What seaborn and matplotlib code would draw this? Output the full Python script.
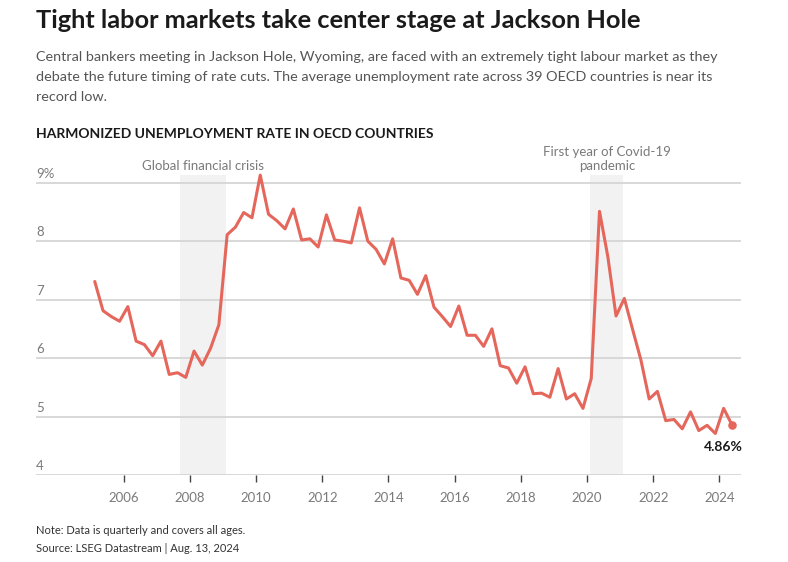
import numpy as np
import pandas as pd
import matplotlib
matplotlib.use('Agg')
import matplotlib.pyplot as plt
import matplotlib.transforms as mtransforms
import seaborn as sns

# ── Data (quarterly, Q1 2005 - Q2 2024) ───────────────────────────────────────
first_year = 2005
rate = [
    7.31, 6.81, 6.71, 6.63, 6.88, 6.29, 6.23, 6.04, 6.29, 5.72, 5.75, 5.67,
    6.12, 5.88, 6.17, 6.57, 8.11, 8.24, 8.49, 8.40, 9.13, 8.46, 8.35, 8.21,
    8.55, 8.02, 8.04, 7.90, 8.45, 8.02, 8.00, 7.97, 8.57, 8.00, 7.86, 7.61,
    8.04, 7.37, 7.33, 7.09, 7.41, 6.87, 6.71, 6.54, 6.89, 6.39, 6.39, 6.20,
    6.50, 5.87, 5.83, 5.57, 5.85, 5.39, 5.40, 5.33, 5.82, 5.30, 5.39, 5.14,
    5.65, 8.51, 7.74, 6.72, 7.02, 6.49, 5.97, 5.30, 5.43, 4.93, 4.95, 4.79,
    5.08, 4.76, 4.85, 4.71, 5.14, 4.86,
]
year_ticks = [2006, 2008, 2010, 2012, 2014, 2016, 2018, 2020, 2022, 2024]
y_ticks = [4, 5, 6, 7, 8, 9]
y_tick_labels = ['4', '5', '6', '7', '8', '9%']
shade_periods = [(2007.7, 2009.1), (2020.1, 2021.1)]
shade_labels = ['Global financial crisis', 'First year of Covid-19\npandemic']

df = pd.DataFrame({
    'year': first_year + 0.125 + 0.25 * np.arange(len(rate)),
    'rate': rate,
})

# ── Style ─────────────────────────────────────────────────────────────────────
sns.set_theme(style='white')
plt.rcParams['font.family'] = ['Lato', 'DejaVu Sans']

LINE = '#e5675c'
GRID = '#d6d6d6'
GREY_TXT = '#7a7a7a'
DARK = '#1a1a1a'

fig = plt.figure(figsize=(7.88, 5.62), dpi=100)
ax = fig.add_axes([36 / 788, 1 - 475 / 562, (741 - 36) / 788, (475 - 171) / 562])

ymin, ymax = 4, 9.2
ax.set_ylim(ymin, ymax)
ax.set_xlim(2003.35, 2024.65)

# shaded periods
for x0, x1 in shade_periods:
    ax.fill_betweenx([ymin, 9.13], x0, x1, color='#f2f2f2', zorder=0, lw=0)

# gridlines + y labels above the lines
trans = mtransforms.blended_transform_factory(ax.transAxes, ax.transData)
for v, lbl in zip(y_ticks, y_tick_labels):
    ax.axhline(v, color=GRID, lw=1.3, zorder=1)
    ax.text(0, v + 0.05, lbl, transform=trans, ha='left', va='bottom',
            fontsize=9.5, color=GREY_TXT)

sns.lineplot(data=df, x='year', y='rate', color=LINE, lw=2.2, ax=ax, zorder=3)
last = df.iloc[-1]
ax.scatter([last['year']], [last['rate']], s=38, color=LINE, zorder=4, lw=0)
ax.text(last['year'] - 0.25, last['rate'] - 0.28, f"{last['rate']:.2f}%",
        ha='center', va='top', fontsize=10, fontweight='bold', color=DARK)

# shading annotations
for (x0, x1), lbl in zip(shade_periods, shade_labels):
    ax.text((x0 + x1) / 2, 9.19, lbl, ha='center', va='bottom',
            fontsize=9.5, color=GREY_TXT, clip_on=False, linespacing=1.2)

ax.set_xticks(year_ticks)
ax.set_xticklabels([str(y) for y in year_ticks], fontsize=9.5, color=GREY_TXT)
ax.set_yticks([])
ax.tick_params(axis='x', length=5, width=1, color='#444444', pad=7, bottom=True)
ax.set_xlabel('')
ax.set_ylabel('')
for s in ['top', 'right', 'left', 'bottom']:
    ax.spines[s].set_visible(False)

# ── Titles & notes ────────────────────────────────────────────────────────────
fig.text(36 / 788, 1 - 20 / 562, 'Tight labor markets take center stage at Jackson Hole',
         ha='left', va='center', fontsize=18.3, fontweight='bold', color=DARK)
fig.text(36 / 788, 1 - 51 / 562,
         'Central bankers meeting in Jackson Hole, Wyoming, are faced with an extremely tight labour market as they\n'
         'debate the future timing of rate cuts. The average unemployment rate across 39 OECD countries is near its\n'
         'record low.',
         ha='left', va='top', fontsize=10.4, color='#555555', linespacing=1.78)
fig.text(36 / 788, 1 - 134 / 562, 'HARMONIZED UNEMPLOYMENT RATE IN OECD COUNTRIES',
         ha='left', va='center', fontsize=10, fontweight='bold', color=DARK)
fig.text(36 / 788, 1 - 531 / 562, 'Note: Data is quarterly and covers all ages.',
         ha='left', va='center', fontsize=8, color='#333333')
fig.text(36 / 788, 1 - 548 / 562, 'Source: LSEG Datastream | Aug. 13, 2024',
         ha='left', va='center', fontsize=8, color='#333333')

fig.savefig('out.png', dpi=100)
